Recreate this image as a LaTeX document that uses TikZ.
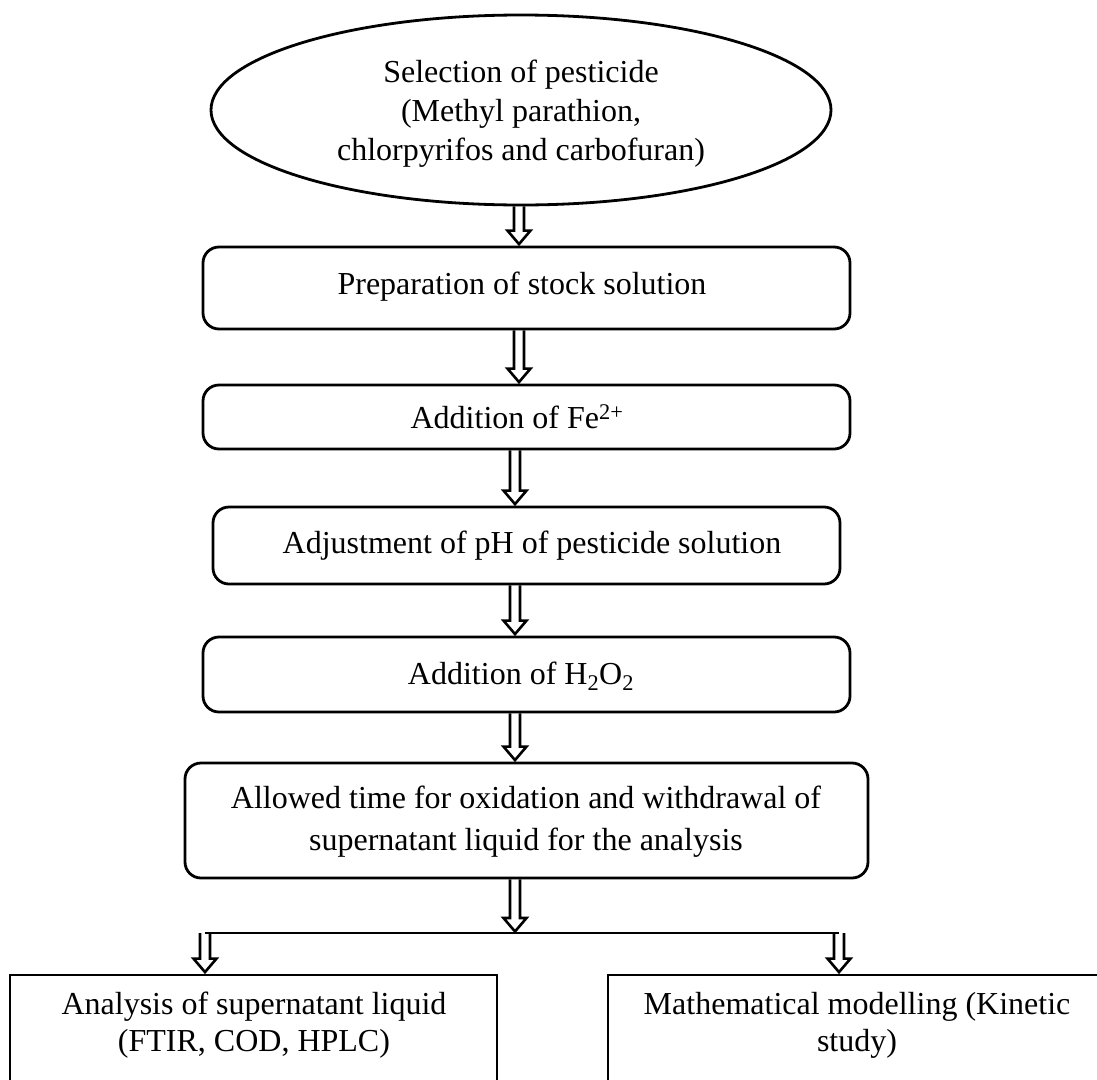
\documentclass[tikz,border=0pt]{standalone}
\usepackage{fontspec}
\setmainfont{Liberation Serif}
\usetikzlibrary{calc,shapes.geometric}
\begin{document}
\begin{tikzpicture}[x=1pt,y=-1pt,
  rbox/.style={draw, line width=2.8pt, rounded corners=16pt, inner sep=0pt},
  sbox/.style={draw, line width=2.8pt, inner sep=0pt},
  txt/.style={align=center, inner sep=0pt, font=\fontsize{32}{42}\selectfont},
  etxt/.style={align=center, inner sep=0pt, font=\fontsize{32}{39}\selectfont},
  stxt/.style={align=center, inner sep=0pt, font=\fontsize{32}{37}\selectfont},
  conn/.style={line width=2.8pt},
  harrow/.style={line width=2.6pt, line join=miter,
    to path={let \p1=(\tikztostart), \p2=(\tikztotarget) in
      (\x1-5pt,\y1) -- (\x1-5pt,\y2+15pt) -- (\x1-11.5pt,\y2+15pt) -- (\x1,\y2+1.5pt)
      -- (\x1+11.5pt,\y2+15pt) -- (\x1+5pt,\y2+15pt) -- (\x1+5pt,\y1)}}]
\useasboundingbox (0,0) rectangle (1097,1079);
\clip (0,0) rectangle (1097,1079);

% arrow axes
\coordinate (axA) at (519,0);
\coordinate (axB) at (515,0);

% ellipse
\node[draw, ellipse, line width=2.8pt, minimum width=620pt, minimum height=190pt, inner sep=0pt] (e) at (521,110) {};
\node[etxt] (t1) at (521,114)
  {Selection of pesticide\\(Methyl parathion,\\chlorpyrifos and carbofuran)};

% boxes
\node[rbox, minimum width=647pt, minimum height=82pt] (b2) at (526.5,288) {};
\node[txt] (t2) at (522,287) {Preparation of stock solution};

\node[rbox, minimum width=647pt, minimum height=64pt] (b3) at (526.5,417) {};
\node[txt] (t3) at (517,417) {Addition of Fe\textsuperscript{2+}};

\node[rbox, minimum width=627pt, minimum height=77pt] (b4) at (526.5,545.5) {};
\node[txt] (t4) at (532,546) {Adjustment of pH of pesticide solution};

\node[rbox, minimum width=647pt, minimum height=75pt] (b5) at (526.5,674.5) {};
\node[txt] (t5) at (521,676) {Addition of H\textsubscript{2}O\textsubscript{2}};

\node[rbox, minimum width=683pt, minimum height=115pt] (b6) at (526.5,820.5) {};
\node[txt] (t6) at (526,822) {Allowed time for oxidation and withdrawal of\\supernatant liquid for the analysis};

\node[sbox, minimum width=487pt, minimum height=125pt] (bL) at (253.5,1037.5) {};
\node[stxt] (tL) at (254,1025) {Analysis of supernatant liquid\\(FTIR, COD, HPLC)};

\node[sbox, minimum width=502pt, minimum height=125pt] (bR) at (859,1037.5) {};
\node[stxt] (tR) at (857,1025) {Mathematical modelling (Kinetic\\study)};

% junction coordinates
\coordinate (jM) at (515,933);
\coordinate (jL) at (205,933);
\coordinate (jR) at (839,933);

% connectors
\draw[harrow] (e.south -| axA) to (b2.north);
\draw[harrow] (b2.south -| axA) to (b3.north);
\draw[harrow] (b3.south -| axB) to (b4.north);
\draw[harrow] (b4.south -| axB) to (b5.north);
\draw[harrow] (b5.south -| axB) to (b6.north);
\draw[harrow] (b6.south -| axB) to (jM);
\draw[conn] (jL) -- (jR);
\draw[harrow] (jL) to (bL.north);
\draw[harrow] (jR) to (bR.north);
\end{tikzpicture}
\end{document}
